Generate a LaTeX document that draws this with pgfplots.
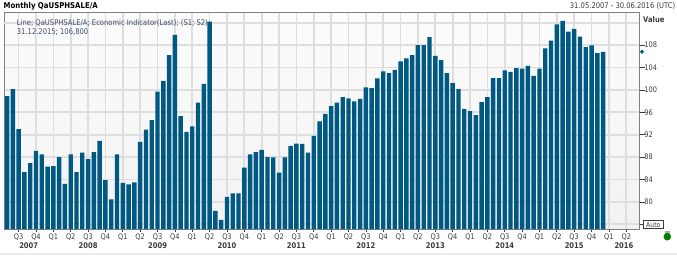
\documentclass[border=0pt]{standalone}
\usepackage{pgfplots}
\pgfplotsset{compat=1.18}
\usepackage{pgfplotstable}
\usetikzlibrary{shapes.geometric}
\usepackage{fontspec}
\setmainfont{DejaVu Sans}[FakeStretch=0.87]
\definecolor{barblue}{RGB}{0,89,130}
\definecolor{gridgray}{RGB}{222,222,222}
\definecolor{axisgray}{RGB}{128,128,128}
\definecolor{labelgray}{RGB}{60,60,60}
\definecolor{infoblue}{RGB}{62,78,112}
\definecolor{bgtop}{RGB}{252,252,252}
\definecolor{bgbot}{RGB}{242,242,242}
\definecolor{stripgray}{RGB}{236,236,236}
\definecolor{handlegray}{RGB}{170,170,170}
\definecolor{dotgreen}{RGB}{0,128,0}
\pgfplotstableread{
x y
4 98.9
5 100.15
6 93.0
7 85.3
8 86.9
9 89.1
10 88.5
11 86.3
12 86.4
13 88.0
14 83.2
15 88.5
16 85.3
17 88.8
18 87.65
19 88.9
20 90.9
21 83.9
22 80.45
23 88.5
24 83.4
25 83.1
26 83.5
27 90.7
28 92.9
29 94.6
30 99.7
31 101.6
32 106.2
33 109.8
34 95.3
35 92.5
36 93.5
37 97.7
38 101.05
39 112.2
40 78.4
41 76.8
42 80.9
43 81.5
44 81.5
45 86.1
46 88.5
47 88.9
48 89.3
49 88.0
50 87.95
51 85.2
52 87.95
53 90.0
54 90.4
55 90.35
56 88.8
57 91.8
58 94.35
59 95.7
60 97.1
61 97.7
62 98.7
63 98.5
64 97.95
65 98.4
66 100.45
67 100.3
68 102.05
69 103.3
70 103.0
71 103.55
72 105.1
73 105.6
74 106.2
75 108.0
76 108.0
77 109.4
78 106.05
79 105.3
80 103.0
81 101.2
82 100.15
83 96.6
84 96.2
85 95.5
86 97.8
87 98.7
88 102.1
89 102.1
90 103.5
91 103.2
92 103.9
93 103.8
94 104.3
95 102.5
96 103.8
97 107.4
98 108.8
99 111.7
100 112.3
101 110.4
102 110.9
103 109.5
104 107.65
105 107.95
106 106.55
107 106.8
}\datatable
\begin{document}
\begin{tikzpicture}[x=1pt,y=1pt]
\useasboundingbox (0,0) rectangle (677,255);
\fill[white] (0,0) rectangle (677,255);
\fill[stripgray] (0,0) rectangle (677,2.3);
\begin{axis}[
  at={(4pt,26pt)}, anchor=south west,
  scale only axis, width=635pt, height=217pt,
  xmin=3.47, xmax=113.2, ymin=75.15, ymax=113.9,
  ybar, bar width=0.76,
  clip mode=individual,
  axis background/.style={top color=bgtop, bottom color=bgbot},
  xtick={6,9,...,111},
  xticklabels={Q3,Q4,Q1,Q2,Q3,Q4,Q1,Q2,Q3,Q4,Q1,Q2,Q3,Q4,Q1,Q2,Q3,Q4,Q1,Q2,Q3,Q4,Q1,Q2,Q3,Q4,Q1,Q2,Q3,Q4,Q1,Q2,Q3,Q4,Q1,Q2},
  ytick={76,80,84,88,92,96,100,104,108},
  yticklabels={,80,84,88,92,96,100,104,108},
  extra y ticks={112}, extra y tick labels={},
  extra y tick style={ytick style={draw=none}},
  grid=major,
  grid style={line width=1.7pt, draw=gridgray},
  axis line style={draw=axisgray, line width=0.8pt},
  tick align=outside,
  xtick pos=bottom, ytick pos=right,
  yticklabel pos=right,
  xtick style={draw=labelgray, line width=0.7pt, /pgfplots/major tick length=3pt},
  ytick style={draw=labelgray, line width=0.7pt, /pgfplots/major tick length=6pt},
  ticklabel style={font=\fontsize{7.6}{9}\selectfont, text=labelgray},
  yticklabel style={inner sep=1pt},
  xticklabel style={anchor=center, inner sep=0pt, yshift=-3.6pt},
]
\addplot[draw=none, fill=barblue] table[x=x, y=y] {\datatable};
\pgfplotsinvokeforeach{12,24,36,48,60,72,84,96,108}{
  \draw[labelgray, line width=0.8pt] (axis cs:#1,75.15) ++(0,-11) -- ++(0,-12);
}
\begin{scope}[font=\fontsize{7.8}{9}\selectfont\bfseries, text=labelgray, inner sep=0pt]
\node at (axis cs:7.74,75.15) [yshift=-16.7pt] {2007};
\node at (axis cs:18,75.15) [yshift=-16.7pt] {2008};
\node at (axis cs:30,75.15) [yshift=-16.7pt] {2009};
\node at (axis cs:42,75.15) [yshift=-16.7pt] {2010};
\node at (axis cs:54,75.15) [yshift=-16.7pt] {2011};
\node at (axis cs:66,75.15) [yshift=-16.7pt] {2012};
\node at (axis cs:78,75.15) [yshift=-16.7pt] {2013};
\node at (axis cs:90,75.15) [yshift=-16.7pt] {2014};
\node at (axis cs:102,75.15) [yshift=-16.7pt] {2015};
\node at (axis cs:110.6,75.15) [yshift=-16.7pt] {2016};
\end{scope}
\node[fill=barblue, diamond, inner sep=0pt, minimum size=4.5pt] at (axis cs:113.72,106.8) {};
\end{axis}
\begin{scope}[inner sep=0pt, font=\fontsize{7.8}{9}\selectfont]
\node[anchor=west, text=black] at (3.5,249) {\fontsize{8}{9}\selectfont\bfseries Monthly QaUSPHSALE/A};
\node[anchor=east, text=labelgray] at (675.5,249) {31.05.2007 - 30.06.2016 (UTC)};
\node[anchor=west, text=labelgray] at (643,235.7) {\bfseries Value};
\node[anchor=west, text=infoblue] at (16.7,232.3) {Line; QaUSPHSALE/A; Economic Indicator(Last); (S1; S2)};
\node[anchor=west, text=infoblue] at (16.7,223.3) {31.12.2015; 106,800};
\draw[labelgray, line width=0.8pt, fill=white] (643.3,26.7) rectangle (663.3,34.3);
\node[text=labelgray, font=\fontsize{7}{8}\selectfont] at (653.3,30.5) {Auto};
\fill[handlegray] (664.5,21) rectangle (670,24.5);
\fill[dotgreen] (667.3,18.3) circle (3.8);
\end{scope}
\end{tikzpicture}
\end{document}
